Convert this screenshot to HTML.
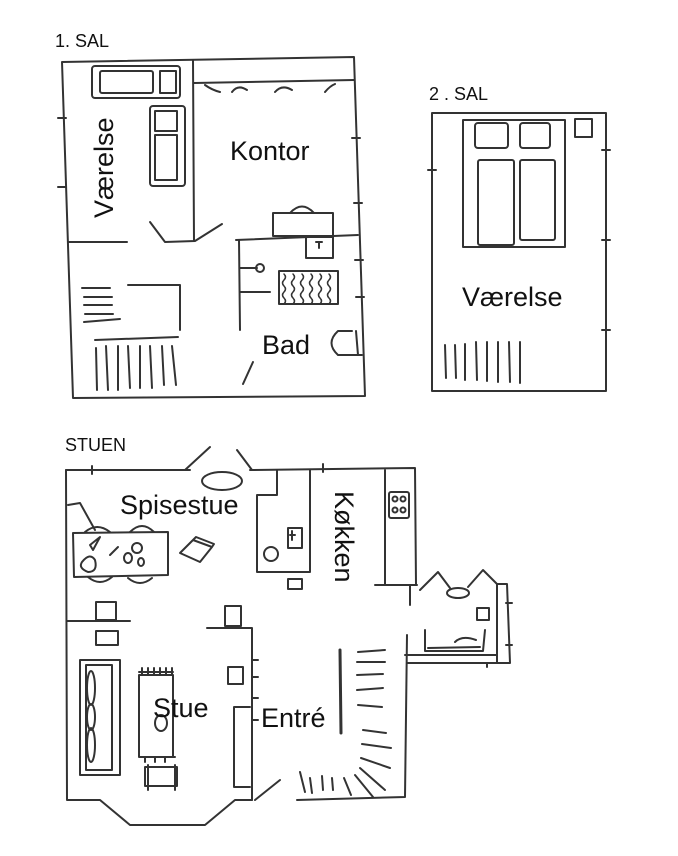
<!DOCTYPE html>
<html><head><meta charset="utf-8"><style>
html,body{margin:0;padding:0;background:#fff;}
svg{display:block;}
text{font-family:"Liberation Sans",sans-serif;fill:#111;}
</style></head><body>
<svg width="678" height="856" viewBox="0 0 678 856" xmlns="http://www.w3.org/2000/svg">
<g fill="none" stroke="#333" stroke-width="2" stroke-linecap="round" stroke-linejoin="round">
<!-- 1. SAL -->
<path d="M62,62 L354,57 L365,396 L73,398 Z"/>
<path d="M193,60 L194,241"/>
<path d="M68,242 L127,242"/>
<path d="M150,222 L165,242 L195,241 L222,224"/>
<path d="M194,83 L354,80"/>
<path d="M205,85 Q212,90 220,92 M232,92 Q238,84 247,90 M275,92 Q282,84 292,90 M325,92 Q330,86 335,84"/>
<path d="M236,240 L358,235"/>
<path d="M239,240 L240,330"/>
<path d="M243,384 L253,362"/>
<path d="M58,118 L66,118 M58,187 L66,187 M352,138 L360,138 M354,203 L362,203 M355,260 L363,260 M356,297 L364,297"/>
<rect x="92" y="66" width="88" height="32" rx="3"/>
<rect x="100" y="71" width="53" height="22" rx="2"/>
<rect x="160" y="71" width="16" height="22"/>
<rect x="150" y="106" width="35" height="80" rx="3"/>
<rect x="155" y="111" width="22" height="20"/>
<rect x="155" y="135" width="22" height="45"/>
<path d="M82,288 L110,288 M84,297 L112,297 M84,305 L112,305 M85,314 L113,314 M84,322 L120,319"/>
<path d="M128,285 L180,285 L180,330"/>
<path d="M95,340 L178,337"/>
<path d="M96,348 L97,390 M106,346 L108,390 M118,346 L118,390 M128,346 L130,388 M140,346 L140,388 M150,346 L152,388 M162,346 L164,385 M172,346 L176,385"/>
<rect x="273" y="213" width="60" height="23"/>
<path d="M290,213 Q302,200 314,213"/>
<rect x="306" y="237" width="27" height="21"/>
<path d="M316,242 L322,242 M319,242 L319,248"/>
<path d="M240,268 L257,268"/><circle cx="260" cy="268" r="4"/>
<path d="M240,292 L270,292"/>
<rect x="279" y="271" width="59" height="33"/>
<path d="M284,274 q3,3 0,6 q-3,3 0,6 q3,3 0,6 q-3,3 0,6 q3,3 0,6 M293,274 q3,3 0,6 q-3,3 0,6 q3,3 0,6 q-3,3 0,6 q3,3 0,6 M302,274 q3,3 0,6 q-3,3 0,6 q3,3 0,6 q-3,3 0,6 q3,3 0,6 M311,274 q3,3 0,6 q-3,3 0,6 q3,3 0,6 q-3,3 0,6 q3,3 0,6 M320,274 q3,3 0,6 q-3,3 0,6 q3,3 0,6 q-3,3 0,6 q3,3 0,6 M329,274 q3,3 0,6 q-3,3 0,6 q3,3 0,6 q-3,3 0,6 q3,3 0,6" stroke-width="1.5"/>
<path d="M352,331 L338,331 Q325,343 338,355 L362,355"/><path d="M356,331 L358,355"/>
<!-- 2. SAL -->
<rect x="432" y="113" width="174" height="278"/>
<path d="M428,170 L436,170 M602,150 L610,150 M602,240 L610,240 M602,330 L610,330"/>
<rect x="463" y="120" width="102" height="127"/>
<rect x="475" y="123" width="33" height="25" rx="3"/>
<rect x="520" y="123" width="30" height="25" rx="3"/>
<rect x="478" y="160" width="36" height="85" rx="2"/>
<rect x="520" y="160" width="35" height="80" rx="2"/>
<rect x="575" y="119" width="17" height="18"/>
<path d="M445,345 L446,378 M455,345 L456,378 M465,344 L465,380 M476,342 L477,380 M487,342 L487,381 M498,342 L498,382 M509,342 L510,382 M520,342 L520,383"/>
<!-- STUEN -->
<path d="M66,470 L67,800 L100,800 L130,825 L205,825 L235,800 L252,800"/>
<path d="M66,470 L190,470 M185,470 L210,447 M237,450 L252,470 M250,470 L415,468 L416,585"/>
<path d="M92,466 L92,474 M323,464 L323,472"/>
<path d="M277,470 L277,495 L257,495 L257,572 L310,572 L310,470"/>
<path d="M385,470 L385,584 M375,585 L417,585 M410,585 L410,605"/>
<rect x="389" y="492" width="20" height="26" rx="2"/>
<circle cx="395" cy="499" r="2.5"/><circle cx="403" cy="499" r="2.5"/><circle cx="395" cy="510" r="2.5"/><circle cx="403" cy="510" r="2.5"/>
<ellipse cx="222" cy="481" rx="20" ry="9"/>
<rect x="288" y="528" width="14" height="20"/>
<path d="M290,535 L295,535 M292,531 L292,540"/>
<circle cx="271" cy="554" r="7"/>
<rect x="288" y="579" width="14" height="10"/>
<path d="M68,505 L80,503 L95,530"/>
<path d="M73,533 L168,532 L168,575 L74,577 Z"/>
<path d="M85,532 Q97,522 110,532 M130,532 Q142,520 154,532 M88,577 Q100,587 112,577 M128,578 Q140,588 152,578"/>
<path d="M90,545 L100,537 L93,550 Z M110,555 L118,547 M82,562 Q90,552 95,560 Q98,572 88,572 Q78,568 82,562"/>
<circle cx="137" cy="548" r="5"/><ellipse cx="128" cy="558" rx="4" ry="5"/><ellipse cx="141" cy="562" rx="3" ry="4"/>
<path d="M180,553 L193,540 L212,547 L200,562 Z M193,540 L196,537 L214,544 L212,547"/>
<rect x="96" y="602" width="20" height="18"/>
<path d="M67,621 L130,621 M207,628 L252,628 L252,800"/>
<rect x="96" y="631" width="22" height="14"/>
<rect x="225" y="606" width="16" height="20"/>
<rect x="228" y="667" width="15" height="17"/>
<path d="M252,660 L258,660 M252,677 L258,677 M252,698 L258,698 M252,720 L258,720"/>
<path d="M250,707 L234,707 L234,787 L250,787"/>
<rect x="80" y="660" width="40" height="115"/>
<rect x="86" y="665" width="26" height="105"/>
<ellipse cx="91" cy="688" rx="4" ry="17"/><ellipse cx="91" cy="717" rx="4" ry="13"/><ellipse cx="91" cy="745" rx="4" ry="17"/>
<rect x="139" y="675" width="34" height="82"/>
<path d="M139,672 L173,672 M142,668 L142,675 M148,668 L148,675 M154,668 L154,675 M160,668 L160,675 M166,668 L166,675 M172,668 L172,675 M140,757 L175,757 M145,757 L145,762 M155,757 L155,762 M165,757 L165,762"/>
<ellipse cx="161" cy="723" rx="6" ry="8"/>
<rect x="145" y="767" width="32" height="19"/>
<path d="M148,765 L148,790 M175,765 L175,790"/>
<path d="M255,800 L280,780 M297,800 L405,797 L407,635"/>
<path d="M340,650 L341,733" stroke-width="3"/>
<path d="M358,652 L385,650 M357,662 L385,662 M357,675 L383,674 M357,690 L383,688 M358,705 L382,707 M363,730 L386,733 M362,744 L391,748 M361,758 L390,768 M360,768 L385,790 M355,775 L373,797 M344,778 L351,795 M332,778 L333,790 M322,776 L323,790 M310,778 L312,793 M300,772 L305,792"/>
<path d="M407,663 L510,663 L507,584 L497,584 L497,663 M405,655 L497,655"/>
<path d="M468,587 L483,570 L497,584 M420,590 L438,572 L450,588"/>
<ellipse cx="458" cy="593" rx="11" ry="5"/>
<rect x="477" y="608" width="12" height="12"/>
<path d="M425,630 L425,651 L483,651 L485,630 M428,648 L480,647 M455,642 Q462,635 476,640"/>
<path d="M506,603 L512,603 M506,645 L512,645 M487,663 L487,667"/>
</g>
<text x="55" y="47" font-size="18">1. SAL</text>
<text x="429" y="100" font-size="18">2 . SAL</text>
<text x="65" y="451" font-size="18">STUEN</text>
<text x="230" y="160" font-size="27">Kontor</text>
<text x="262" y="354" font-size="27">Bad</text>
<text transform="translate(113,218) rotate(-90)" font-size="27">Værelse</text>
<text x="462" y="306" font-size="27">Værelse</text>
<text x="120" y="514" font-size="27">Spisestue</text>
<text transform="translate(335,491) rotate(90)" font-size="27">Køkken</text>
<text x="153" y="717" font-size="27">Stue</text>
<text x="261" y="727" font-size="27">Entré</text>
</svg>
</body></html>
